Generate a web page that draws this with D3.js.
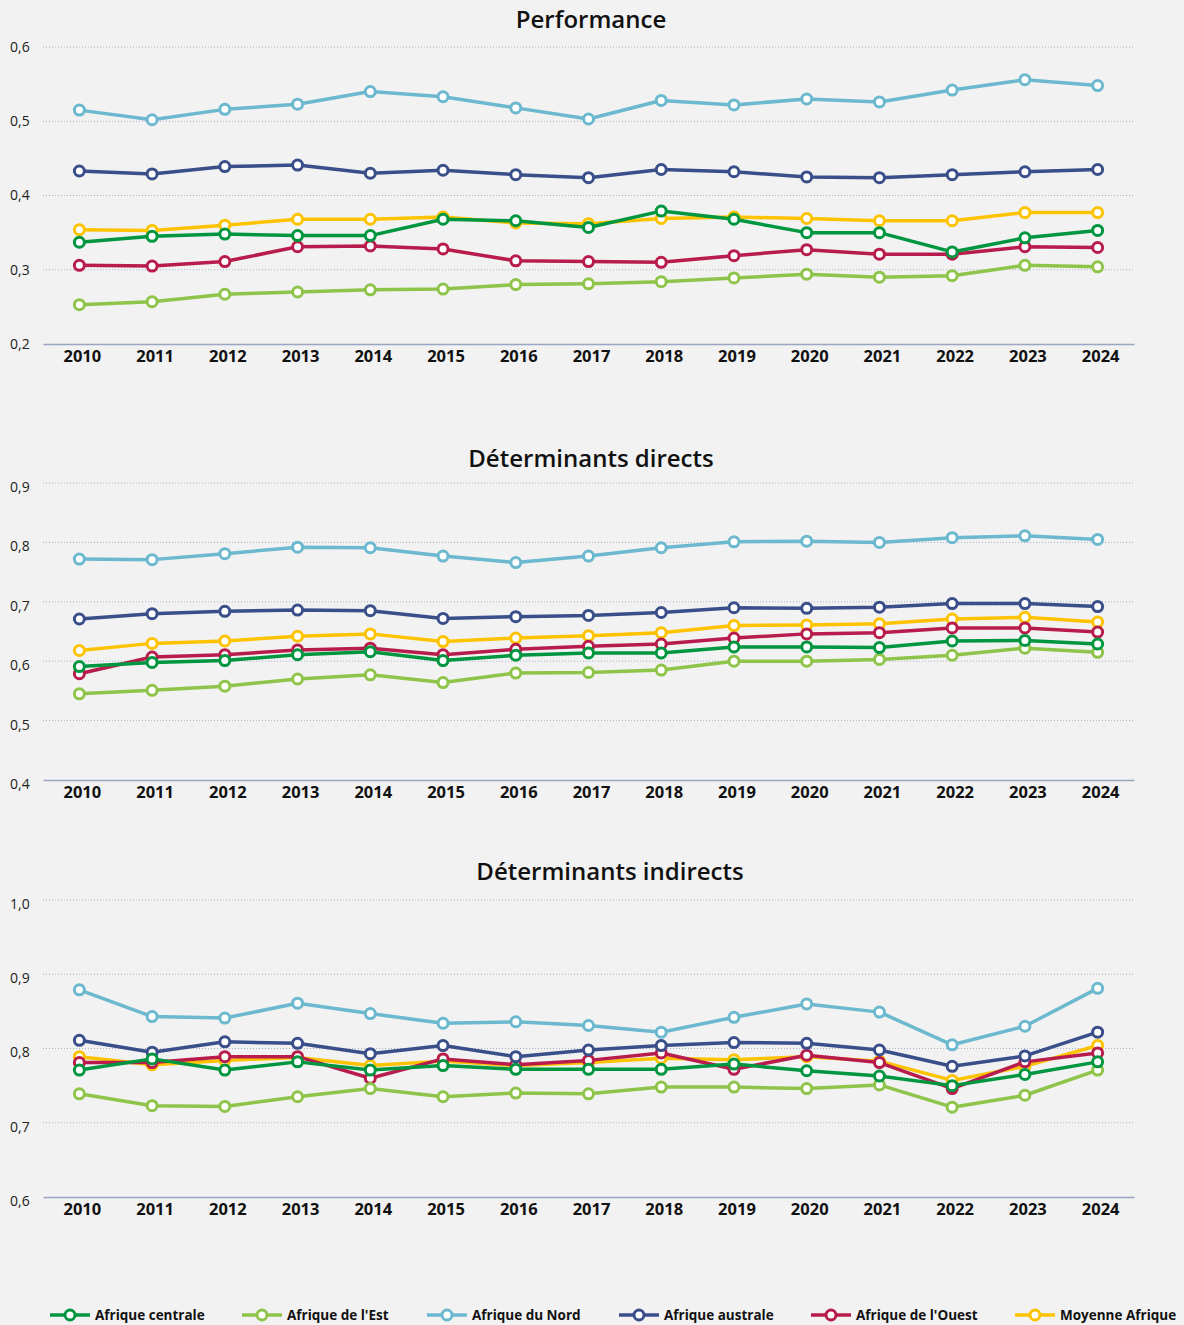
<!DOCTYPE html>
<html>
<head>
<meta charset="utf-8">
<script src="https://cdn.jsdelivr.net/npm/d3@7"></script>
<style>
  body { margin: 0; background: #f1f2f1; font-family: "Open Sans", "Noto Sans", sans-serif; }
  svg { display: block; }
</style>
</head>
<body>
<svg id="chart" width="1184" height="1325"></svg>
<script>
const years = [2010, 2011, 2012, 2013, 2014, 2015, 2016, 2017, 2018, 2019, 2020, 2021, 2022, 2023, 2024];

const regions = ["Afrique centrale", "Afrique de l'Est", "Afrique du Nord", "Afrique australe", "Afrique de l'Ouest", "Moyenne Afrique"];
const regionColors = ["#00953f", "#8fc44a", "#6cb8cf", "#3a4e8a", "#b81c4c", "#fdc300"];

// Performance
const perfCentrale = [0.337, 0.345, 0.348, 0.346, 0.346, 0.368, 0.366, 0.357, 0.379, 0.368, 0.350, 0.350, 0.324, 0.343, 0.353];
const perfEst      = [0.253, 0.257, 0.267, 0.270, 0.273, 0.274, 0.280, 0.281, 0.284, 0.289, 0.294, 0.290, 0.292, 0.306, 0.304];
const perfNord     = [0.515, 0.502, 0.516, 0.523, 0.540, 0.533, 0.518, 0.503, 0.528, 0.522, 0.530, 0.526, 0.542, 0.556, 0.548];
const perfAustrale = [0.433, 0.429, 0.439, 0.441, 0.430, 0.434, 0.428, 0.424, 0.435, 0.432, 0.425, 0.424, 0.428, 0.432, 0.435];
const perfOuest    = [0.306, 0.305, 0.311, 0.331, 0.332, 0.328, 0.312, 0.311, 0.310, 0.319, 0.327, 0.321, 0.321, 0.331, 0.330];
const perfMoyenne  = [0.354, 0.353, 0.360, 0.368, 0.368, 0.371, 0.363, 0.362, 0.369, 0.371, 0.369, 0.366, 0.366, 0.377, 0.377];

// Déterminants directs
const dirCentrale = [0.591, 0.598, 0.601, 0.611, 0.616, 0.601, 0.610, 0.614, 0.614, 0.624, 0.624, 0.623, 0.634, 0.635, 0.629];
const dirEst      = [0.545, 0.551, 0.558, 0.570, 0.577, 0.564, 0.580, 0.581, 0.585, 0.600, 0.600, 0.603, 0.610, 0.622, 0.615];
const dirNord     = [0.772, 0.771, 0.781, 0.792, 0.791, 0.777, 0.766, 0.777, 0.791, 0.801, 0.802, 0.800, 0.808, 0.811, 0.805];
const dirAustrale = [0.671, 0.680, 0.684, 0.686, 0.685, 0.672, 0.675, 0.677, 0.682, 0.690, 0.689, 0.691, 0.697, 0.697, 0.692];
const dirOuest    = [0.579, 0.607, 0.611, 0.619, 0.622, 0.611, 0.620, 0.625, 0.629, 0.639, 0.646, 0.648, 0.656, 0.656, 0.649];
const dirMoyenne  = [0.618, 0.630, 0.634, 0.642, 0.646, 0.633, 0.639, 0.643, 0.648, 0.660, 0.661, 0.663, 0.671, 0.674, 0.666];

// Déterminants indirects
const indCentrale = [0.771, 0.786, 0.771, 0.782, 0.771, 0.777, 0.772, 0.772, 0.772, 0.779, 0.770, 0.763, 0.750, 0.765, 0.782];
const indEst      = [0.739, 0.723, 0.722, 0.735, 0.746, 0.735, 0.740, 0.739, 0.748, 0.748, 0.746, 0.751, 0.721, 0.737, 0.771];
const indNord     = [0.879, 0.843, 0.841, 0.861, 0.847, 0.834, 0.836, 0.831, 0.822, 0.842, 0.860, 0.849, 0.805, 0.830, 0.881];
const indAustrale = [0.811, 0.795, 0.809, 0.807, 0.793, 0.804, 0.789, 0.798, 0.804, 0.808, 0.807, 0.798, 0.776, 0.790, 0.822];
const indOuest    = [0.781, 0.781, 0.789, 0.789, 0.760, 0.786, 0.778, 0.784, 0.794, 0.772, 0.791, 0.781, 0.746, 0.782, 0.794];
const indMoyenne  = [0.789, 0.778, 0.784, 0.788, 0.777, 0.783, 0.777, 0.781, 0.787, 0.785, 0.789, 0.783, 0.757, 0.776, 0.804];

const panels = [
  { title: "Performance", titleX: 591, titleY: 28, top: 47, domain: [0.2, 0.6], ticks: [0.2, 0.3, 0.4, 0.5, 0.6], tickDy: 0,
    series: [perfCentrale, perfEst, perfNord, perfAustrale, perfOuest, perfMoyenne] },
  { title: "Déterminants directs", titleX: 591, titleY: 467, top: 483, domain: [0.4, 0.9], ticks: [0.4, 0.5, 0.6, 0.7, 0.8, 0.9], tickDy: 4,
    series: [dirCentrale, dirEst, dirNord, dirAustrale, dirOuest, dirMoyenne] },
  { title: "Déterminants indirects", titleX: 610, titleY: 880, top: 900, domain: [0.6, 1.0], ticks: [0.6, 0.7, 0.8, 0.9, 1.0], tickDy: 4,
    series: [indCentrale, indEst, indNord, indAustrale, indOuest, indMoyenne] }
];

const plotLeft = 43, plotRight = 1134, plotHeight = 297;
const svg = d3.select("#chart");
const fmt = v => d3.format(".1f")(v).replace(".", ",");

const x = d3.scaleBand()
  .domain(years)
  .range([plotLeft, plotRight]);

panels.forEach(p => {
  const g = svg.append("g");
  const y = d3.scaleLinear()
    .domain(p.domain)
    .range([p.top + plotHeight, p.top]);

  g.append("text")
    .attr("x", p.titleX)
    .attr("y", p.titleY)
    .attr("text-anchor", "middle")
    .style("font-size", "24px")
    .style("font-weight", "600")
    .style("fill", "#111")
    .text(p.title);

  // dotted gridlines
  g.selectAll("line.grid")
    .data(p.ticks.slice(1))
    .enter()
    .append("line")
    .attr("x1", plotLeft)
    .attr("x2", plotRight)
    .attr("y1", d => y(d))
    .attr("y2", d => y(d))
    .attr("stroke", "#a9afc9")
    .attr("stroke-width", 1)
    .attr("stroke-dasharray", "1,2");

  g.selectAll("text.ytick")
    .data(p.ticks)
    .enter()
    .append("text")
    .attr("x", 10)
    .attr("y", d => y(d) + p.tickDy)
    .attr("dy", "0.35em")
    .style("font-size", "14px")
    .style("fill", "#222")
    .text(fmt);

  // bottom axis
  const axis = g.append("g")
    .attr("transform", `translate(0,${p.top + plotHeight})`)
    .call(d3.axisBottom(x).tickSize(0).tickPadding(6));
  axis.select(".domain").attr("stroke", "#9ba5c4").attr("stroke-width", 1.5);
  axis.selectAll("text")
    .attr("dx", 3)
    .style("font-family", "'Open Sans', sans-serif")
    .style("font-size", "16.5px")
    .style("font-weight", "700")
    .style("fill", "#111");

  const line = d3.line()
    .x((d, i) => x(years[i]) + x.bandwidth() / 2)
    .y(d => y(d));

  // draw last legend entry first so Afrique centrale ends on top
  d3.range(regions.length).reverse().forEach(k => {
    const vals = p.series[k];
    g.append("path")
      .datum(vals)
      .attr("fill", "none")
      .attr("stroke", regionColors[k])
      .attr("stroke-width", 3.5)
      .attr("stroke-linejoin", "round")
      .attr("d", line);

    g.selectAll(null)
      .data(vals)
      .enter()
      .append("circle")
      .attr("cx", (d, i) => x(years[i]) + x.bandwidth() / 2)
      .attr("cy", d => y(d))
      .attr("r", 5)
      .attr("fill", "#fff")
      .attr("stroke", regionColors[k])
      .attr("stroke-width", 3);
  });
});

// legend
const legendX = [50, 242, 427, 619, 811, 1015];
const legend = svg.append("g").attr("transform", "translate(0,1315)");
regions.forEach((r, k) => {
  const item = legend.append("g").attr("transform", `translate(${legendX[k]},0)`);
  item.append("line")
    .attr("x1", 0).attr("x2", 40)
    .attr("stroke", regionColors[k])
    .attr("stroke-width", 3.5);
  item.append("circle")
    .attr("cx", 20).attr("r", 5)
    .attr("fill", "#fff")
    .attr("stroke", regionColors[k])
    .attr("stroke-width", 3);
  item.append("text")
    .attr("x", 45)
    .attr("dy", "0.35em")
    .style("font-size", "13.5px")
    .style("font-weight", "700")
    .style("letter-spacing", "0px")
    .style("fill", "#111")
    .text(r);
});
</script>
</body>
</html>
